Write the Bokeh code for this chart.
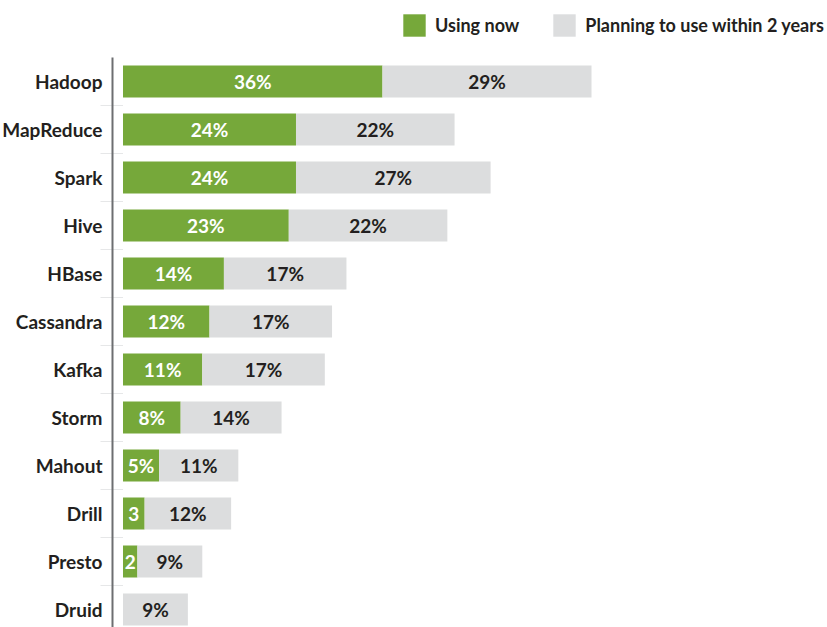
from bokeh.plotting import figure
from bokeh.models import ColumnDataSource, Range1d, Legend, LegendItem
from bokeh.core.properties import value
from bokeh.embed import file_html
from bokeh.resources import INLINE

categories = ["Hadoop", "MapReduce", "Spark", "Hive", "HBase", "Cassandra",
              "Kafka", "Storm", "Mahout", "Drill", "Presto", "Druid"]
using_now = [36, 24, 24, 23, 14, 12, 11, 8, 5, 3, 2, 0]
planning = [29, 22, 27, 22, 17, 17, 17, 14, 11, 12, 9, 9]
using_labels = ["36%", "24%", "24%", "23%", "14%", "12%", "11%", "8%", "5%", "3", "2", ""]
planning_labels = ["29%", "22%", "27%", "22%", "17%", "17%", "17%", "14%", "11%", "12%", "9%", "9%"]

GREEN = "#76A83A"
GREY = "#DCDDDE"
DARK = "#231F20"
FONT = "Lato"

n = len(categories)
ypos = [n - 1 - i for i in range(n)]
total = [u + p for u, p in zip(using_now, planning)]

src = ColumnDataSource(dict(
    y=ypos, cat=categories, using=using_now, planning=planning, total=total,
    ulab=using_labels, plab=planning_labels,
    umid=[u / 2 for u in using_now],
    pmid=[u + p / 2 for u, p in zip(using_now, planning)],
))

# scale: ~7.208 px per percentage point, bars begin 122.5 px from the left edge
X_START = -16.995
X_END = 97.74
AXIS_X = -1.457
TICK_X0 = -3.12

p = figure(width=827, height=627, output_backend="svg", toolbar_location=None,
           x_range=Range1d(X_START, X_END), y_range=Range1d(-0.375, 12.6875),
           x_axis_location=None, y_axis_location=None,
           min_border_left=0, min_border_right=0,
           min_border_top=0, min_border_bottom=0)
p.outline_line_color = None
p.grid.visible = False
p.background_fill_color = "white"

# faint category-boundary ticks
bounds = [v + 0.5 for v in range(n - 1)]
p.segment(x0=TICK_X0, x1=0, y0=bounds, y1=bounds, line_color="#E6E7E8", line_width=1)

r1 = p.hbar(y="y", left=0, right="using", height=0.667, source=src,
            fill_color=GREEN, line_color=None)
r2 = p.hbar(y="y", left="using", right="total", height=0.667, source=src,
            fill_color=GREY, line_color=None)

# vertical axis rule
p.segment(x0=AXIS_X, x1=AXIS_X, y0=-0.5, y1=n - 0.5, line_color="#6D6E71", line_width=2)

# category labels
p.text(x=AXIS_X, y="y", text="cat", source=src, x_offset=-10, text_color=DARK,
       text_align="right", text_baseline="middle", text_font=value(FONT),
       text_font_size="19px", text_font_style="bold")

p.text(x="umid", y="y", text="ulab", source=src, text_color="white",
       text_align="center", text_baseline="middle", text_font=value(FONT),
       text_font_size="19px", text_font_style="bold")
p.text(x="pmid", y="y", text="plab", source=src, text_color=DARK,
       text_align="center", text_baseline="middle", text_font=value(FONT),
       text_font_size="19px", text_font_style="bold")

legend = Legend(items=[LegendItem(label="Using now", renderers=[r1]),
                       LegendItem(label="Planning to use within 2 years", renderers=[r2])],
                orientation="horizontal", location=(400, 588),
                glyph_width=28, glyph_height=28, label_standoff=7, spacing=31,
                padding=0, margin=0, border_line_color=None, background_fill_alpha=0,
                label_text_font=FONT, label_text_font_size="18px",
                label_text_font_style="bold", label_text_color=DARK,
                label_height=28)
p.add_layout(legend, "center")

open("out.html", "w").write(file_html(p, INLINE))
